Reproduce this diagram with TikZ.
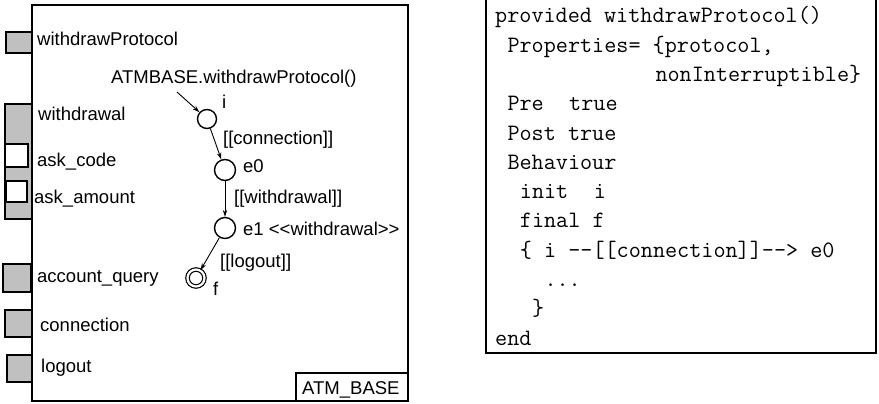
\documentclass[tikz,border=0pt]{standalone}
\usepackage{fontspec}
\setmainfont{Liberation Sans}
\setmonofont{Latin Modern Mono}
\usetikzlibrary{arrows.meta}
\definecolor{portgray}{RGB}{192,192,192}
\tikzset{
  lbl/.style={anchor=base west, inner sep=0pt, font=\fontsize{18.5}{22}\selectfont},
  code/.style={anchor=base west, inner sep=0pt, font=\ttfamily\fontsize{23.5}{29}\selectfont},
  port/.style={draw, line width=2.4pt, fill=portgray},
  wport/.style={draw, line width=2.4pt, fill=white},
  state/.style={circle, draw, line width=1.4pt, minimum size=20pt, inner sep=0pt},
  fstate/.style={circle, draw, line width=1.2pt, double, double distance=2.2pt, minimum size=17pt, inner sep=0pt},
  trans/.style={line width=0.9pt, -{Stealth[length=7pt,width=4.5pt]}},
}
\begin{document}
\begin{tikzpicture}[x=1pt,y=-1pt]
\useasboundingbox (0,0) rectangle (879,404);
% component box
\fill[white] (32,5) rectangle (408,401);
\draw[port] (6,32) rectangle (32,53);
\draw[port] (5,104) rectangle (32,219);
\draw[wport] (5,144) rectangle (28,167);
\draw[wport] (6,181) rectangle (27,202);
\draw[port] (3,264) rectangle (31,292);
\draw[port] (5,310) rectangle (32,337);
\draw[port] (7,355) rectangle (32,382);
\draw[line width=2.4pt] (32,5) rectangle (408,401);
\draw[line width=2.4pt] (296,373) rectangle (408,401);
\node[lbl] (nAB) at (302,394) {ATM\_BASE};
% port labels
\node[lbl] (lwp) at (37,46) {withdrawProtocol};
\node[lbl] (lwd) at (38,121) {withdrawal};
\node[lbl] (lac) at (37,166) {ask\_code};
\node[lbl] (laa) at (34,203) {ask\_amount};
\node[lbl] (laq) at (37,282) {account\_query};
\node[lbl] (lcn) at (40,331) {connection};
\node[lbl] (llo) at (41,372) {logout};
% protocol state machine
\node[lbl] (call) at (111,84) {ATMBASE.withdrawProtocol()};
\coordinate (start) at (177,92);
\node[state, minimum size=19pt] (i) at (207,119) {};
\node[state, minimum size=21pt] (e0) at (225,170) {};
\node[state, minimum size=21pt] (e1) at (225,228) {};
\node[fstate] (f) at (196,278) {};
\node[lbl] (li) at (222,109) {i};
\node[lbl] (lt1) at (223,144) {[[connection]]};
\node[lbl] (le0) at (243,172) {e0};
\node[lbl] (lt2) at (234,203) {[[withdrawal]]};
\node[lbl] (le1) at (243,235) {e1 <{}<withdrawal>{}>};
\node[lbl] (lt3) at (220,267) {[[logout]]};
\node[lbl] (lf) at (213,295) {f};
\draw[trans] (start) -- (i);
\draw[trans] (i) -- (e0);
\draw[trans] (e0) -- (e1);
\draw[trans] (e1) -- (f);
% code box
\draw[line width=2.4pt] (486,-2) -- (486,353) -- (876,353) -- (876,-2);
\node[code] (c1) at (495.0,23) {provided withdrawProtocol()};
\node[code] (c2) at (507.3,52.3) {Properties= \{protocol,};
\node[code] (c3) at (655.3,81.5) {nonInterruptible\}};
\node[code] (c4) at (507.3,110.8) {Pre};
\node[code] (c4b) at (569.0,110.8) {true};
\node[code] (c5) at (507.3,140.1) {Post true};
\node[code] (c6) at (507.3,169.4) {Behaviour};
\node[code] (c7) at (519.7,198.6) {init};
\node[code] (c7b) at (593.6,198.6) {i};
\node[code] (c8) at (519.7,227.9) {final f};
\node[code] (c9) at (519.7,257.2) {\{ i --[[connection]]--> e0};
\node[code] (c10) at (544.3,286.5) {...};
\node[code] (c11) at (532.0,315.7) {\}};
\node[code] (c12) at (495.0,345) {end};
\end{tikzpicture}
\end{document}
